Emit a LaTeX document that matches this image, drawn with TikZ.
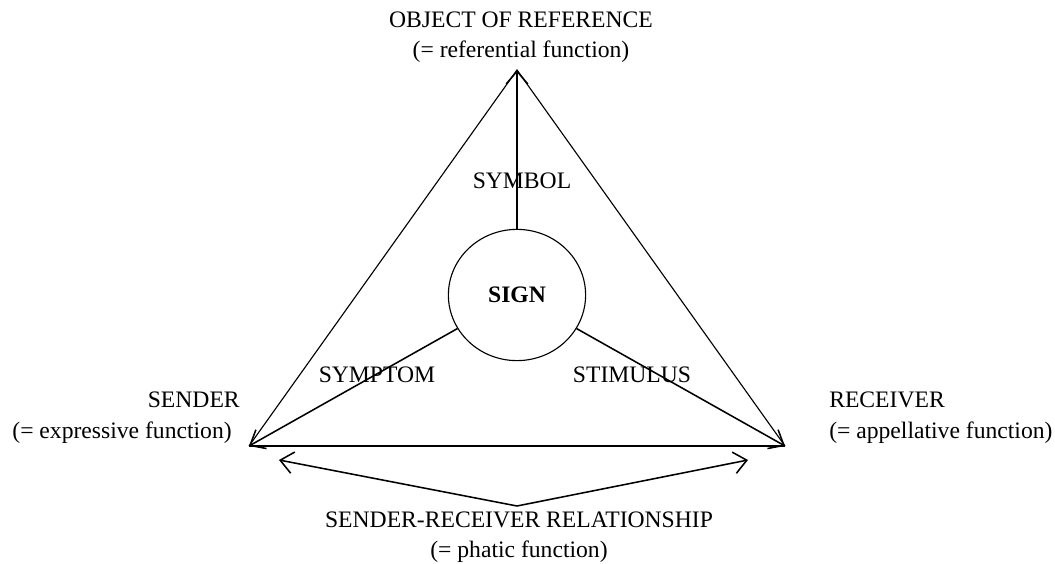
\documentclass[tikz,border=0pt]{standalone}
\usepackage{fontspec}
\setmainfont{Liberation Serif}
\usetikzlibrary{arrows.meta,shapes.geometric}

\begin{document}
\begin{tikzpicture}[x=0.025cm,y=-0.025cm,
  >={Straight Barb[length=3.2mm,width=5.4mm]},
  lbl/.style={inner sep=0pt,font=\fontsize{16.8}{21.3}\selectfont,align=center}]
\useasboundingbox (0,0) rectangle (1055,564);
\coordinate (top) at (517,70);
\coordinate (sndr) at (249,446);
\coordinate (rcvr) at (785,446);
\coordinate (relL) at (279,460);
\coordinate (relM) at (517,506);
\coordinate (relR) at (748,460);
% the triangle
\draw[line width=0.8pt] (sndr) -- (top) -- (rcvr);
\draw[line width=1.3pt] (sndr) -- (rcvr);
% the sign in the middle
\node[draw,ellipse,line width=0.8pt,minimum width=3.43cm,minimum height=3.28cm,inner sep=0pt,
  font=\fontsize{16.8}{20}\selectfont\bfseries] (sign) at (517,295) {SIGN};
\draw[->,line width=1.1pt] (sign.north) -- (top);
\draw[->,line width=1.1pt] (sign) -- (sndr);
\draw[->,line width=1.1pt] (sign) -- (rcvr);
\draw[<->,line width=1.1pt] (relL) -- (relM) -- (relR);
% labels
\node[lbl] (objref) at (521,37) {OBJECT OF REFERENCE\\(= referential function)};
\node[lbl] (symbol) at (522,181) {SYMBOL};
\node[lbl] (symptom) at (377,375) {SYMPTOM};
\node[lbl] (stimulus) at (632,375) {STIMULUS};
\node[lbl,anchor=base east] (sender) at (240,408) {SENDER};
\node[lbl,anchor=base east] (expr) at (232,438) {(= expressive function)};
\node[lbl,anchor=base west] (receiver) at (829,408) {RECEIVER};
\node[lbl,anchor=base west] (appel) at (829,438) {(= appellative function)};
\node[lbl] (relation) at (519,537) {SENDER-RECEIVER RELATIONSHIP\\(= phatic function)};
\end{tikzpicture}
\end{document}
